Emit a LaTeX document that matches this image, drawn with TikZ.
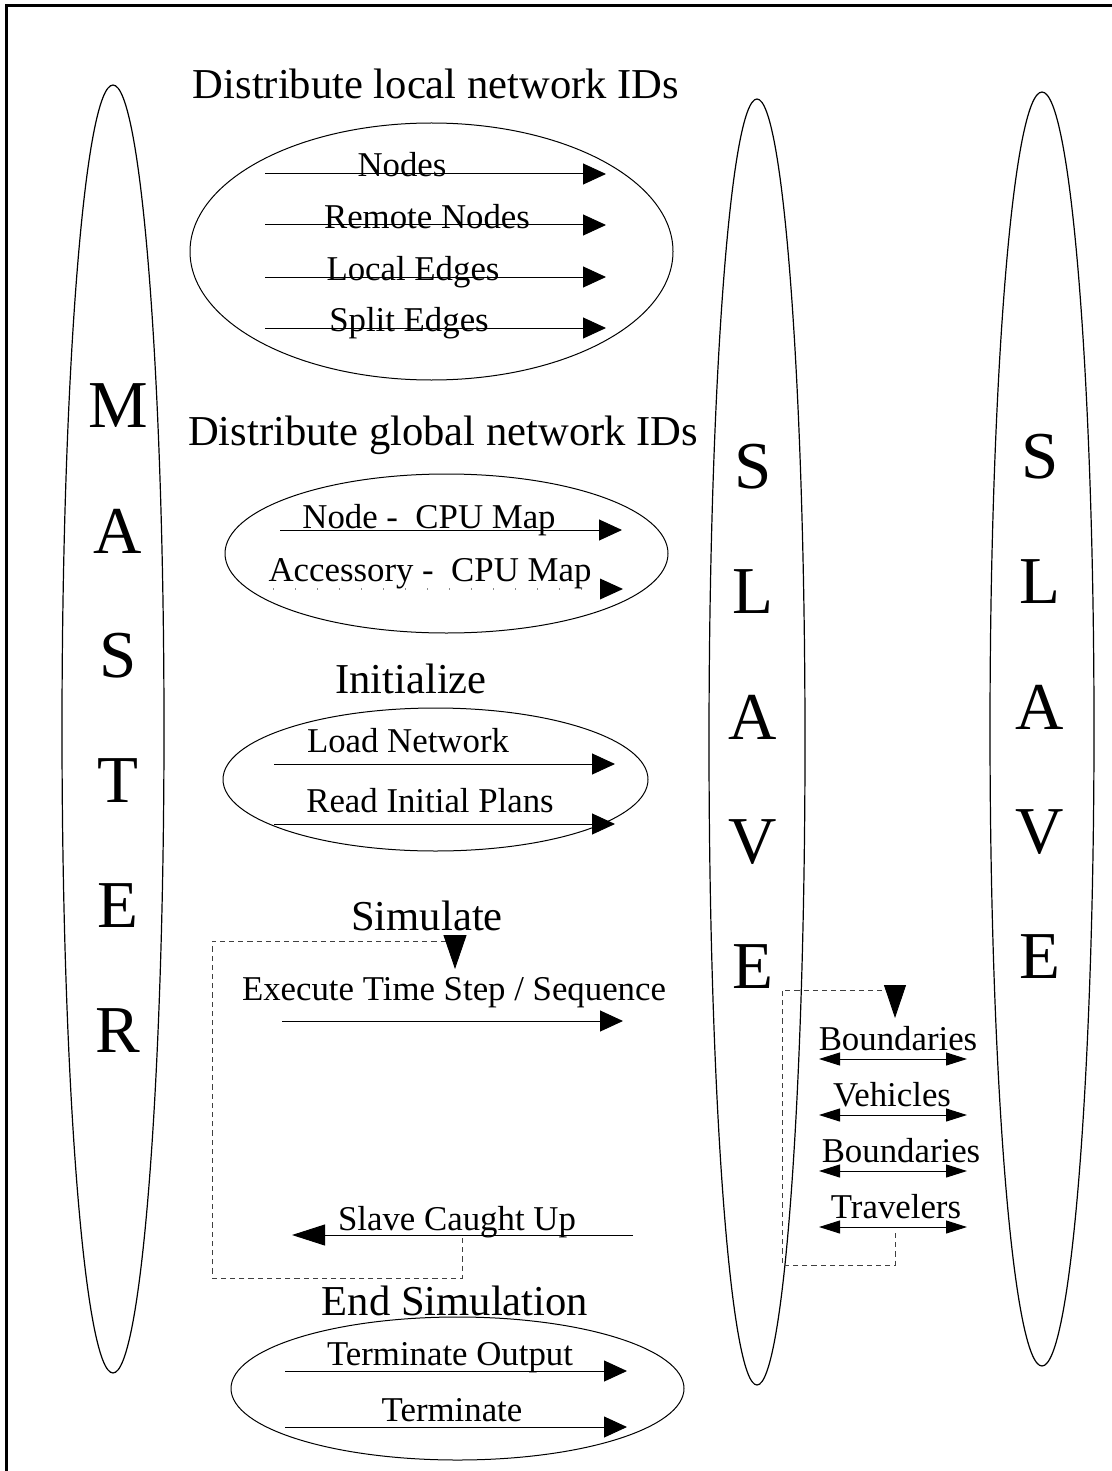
\documentclass[tikz,border=0pt]{standalone}
\usepackage{fontspec}
\setmainfont{Liberation Serif}
\usetikzlibrary{arrows.meta,shapes.geometric}
\tikzset{
  lane/.style={draw,ellipse,line width=0.6pt,inner sep=0pt},   % MASTER / SLAVE column
  grp/.style={draw,ellipse,line width=0.5pt,inner sep=0pt},    % group of messages
  bigch/.style={font=\fontsize{33.5}{40}\selectfont,inner sep=0pt},
  ttl/.style={font=\fontsize{21.3}{25}\selectfont,anchor=base,inner sep=0pt},
  lbl/.style={font=\fontsize{17.4}{20}\selectfont,anchor=base,inner sep=0pt},
  msg/.style={-{Triangle[length=11.5pt,width=10.5pt]},line width=0.5pt},
  msgback/.style={-{Triangle[length=16.5pt,width=10.5pt]},line width=0.5pt},
  xchg/.style={{Triangle[length=10.5pt,width=6.5pt]}-{Triangle[length=10.5pt,width=6.5pt]},line width=0.5pt},
  sparse/.style={dash pattern=on 0.6pt off 10.4pt,black!45,line width=0.6pt},
  loopln/.style={dash pattern=on 2.6pt off 2pt,black!75,line width=0.45pt},
}
\begin{document}
\begin{tikzpicture}[x=0.5pt,y=-0.5pt]
  \useasboundingbox (0,0) rectangle (1112,1471);
  \clip (0,0) rectangle (1112,1471);
  % frame, cut off at the right and bottom
  \draw[line width=1.3pt] (6.5,5.5) rectangle (1200,1600);

  % process columns
  \node[lane,minimum width=51pt,minimum height=644pt] (master) at (113,729) {};
  \node[lane,minimum width=48pt,minimum height=643pt] (slaveA) at (757,742) {};
  \node[lane,minimum width=52pt,minimum height=637pt] (slaveB) at (1042,729) {};
  \foreach \ch [count=\i from 0] in {M,A,S,T,E,R}
    \node[bigch] (mst\i) at (118,406+125*\i) {\ch};
  \foreach \ch [count=\i from 0] in {S,L,A,V,E}{
    \node[bigch] (sa\i) at (753,467+125*\i) {\ch};
    \node[bigch] (sb\i) at (1040,457+125*\i) {\ch};
  }

  % local network IDs
  \node[ttl] (tlocal) at (436,99) {Distribute local network IDs};
  \node[grp,minimum width=241.5pt,minimum height=128.5pt] (local) at (431.5,251.5) {};
  \foreach \y/\tx/\txt in {174/402/Nodes,225/427/Remote Nodes,277/413/Local Edges,328/409/Split Edges}{
    \coordinate (la\y) at (265,\y);
    \coordinate (lb\y) at (606,\y);
    \draw[msg] (la\y) -- (lb\y);
    \node[lbl] at (\tx,\y+3) {\txt};
  }

  % global network IDs
  \node[ttl] (tglobal) at (443,445) {Distribute global network IDs};
  \node[grp,minimum width=221.5pt,minimum height=79.5pt] (global) at (446.5,553.5) {};
  \coordinate (ga1) at (280,530);
  \coordinate (gb1) at (622,530);
  \coordinate (ga2) at (273,589);
  \coordinate (gb2) at (623,589);
  \draw[msg] (ga1) -- (gb1);
  \draw[sparse] (ga2) -- (gb2);
  \fill (gb2) -- ++(-23,-10.5) -- ++(0,21) -- cycle;
  \node[lbl] (ncpu) at (429,528) {Node -\ \ CPU Map};
  \node[lbl] (acpu) at (430,581) {Accessory -\ \ CPU Map};

  % initialize
  \node[ttl] (tinit) at (411,693) {Initialize};
  \node[grp,minimum width=212.5pt,minimum height=71.5pt] (init) at (435.5,779.5) {};
  \foreach \y/\tx/\txt in {764/408/Load Network,824/430/Read Initial Plans}{
    \coordinate (ia\y) at (274,\y);
    \coordinate (ib\y) at (615,\y);
    \draw[msg] (ia\y) -- (ib\y);
    \node[lbl] at (\tx,\y-12) {\txt};
  }

  % simulate loop
  \node[ttl] (tsim) at (427,930) {Simulate};
  \coordinate (ea) at (282,1021);
  \coordinate (eb) at (623,1021);
  \coordinate (ca) at (633,1235);
  \coordinate (cb) at (292,1235);
  \draw[msg] (ea) -- (eb);
  \draw[msgback] (ca) -- (cb);
  \node[lbl] (exec) at (454,1000) {Execute Time Step / Sequence};
  \node[lbl] (caught) at (457,1230) {Slave Caught Up};
  \draw[loopln,-{Triangle[length=17pt,width=11.5pt,color=black]}]
    (462,1238) -- (462,1278) -- (212,1278) -- (212,941) -- (455,941) -- (455,969);

  % exchange between slaves
  \foreach \y/\tx/\txt in {1059/898/Boundaries,1115/892/Vehicles,1171/901/Boundaries,1227/896/Travelers}{
    \coordinate (xa\y) at (819,\y);
    \coordinate (xb\y) at (967,\y);
    \draw[xchg] (xa\y) -- (xb\y);
    \node[lbl] at (\tx,\y-9) {\txt};
  }
  \draw[loopln,-{Triangle[length=16.5pt,width=11pt,color=black]}]
    (895,1233) -- (895,1265) -- (782,1265) -- (782,990) -- (895,990) -- (895,1018);

  % end simulation
  \node[ttl] (tend) at (455,1315) {End Simulation};
  \node[grp,minimum width=226.5pt,minimum height=71.5pt] (fin) at (457.5,1388.5) {};
  \foreach \y/\tx/\txt in {1371/450/Terminate Output,1427/452/Terminate}{
    \coordinate (fa\y) at (285,\y);
    \coordinate (fb\y) at (627,\y);
    \draw[msg] (fa\y) -- (fb\y);
    \node[lbl] at (\tx,\y-6) {\txt};
  }
\end{tikzpicture}
\end{document}
